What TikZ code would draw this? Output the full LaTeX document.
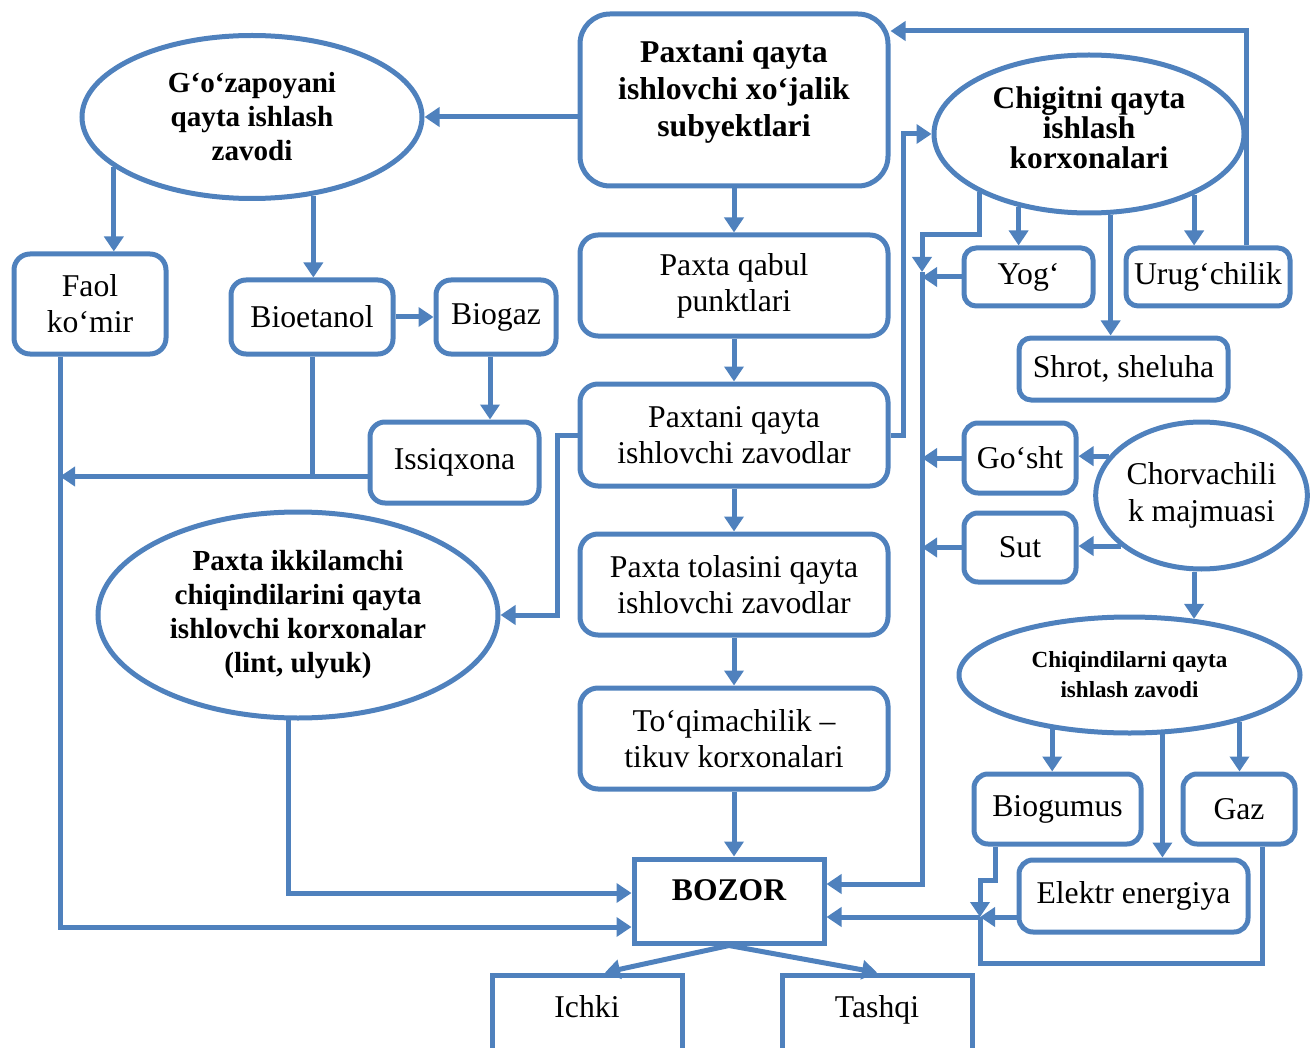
\documentclass[tikz,border=0pt]{standalone}
\usepackage{fontspec}
\setmainfont{Liberation Serif}
\usetikzlibrary{arrows.meta,shapes.geometric}
\definecolor{frame}{RGB}{79,129,189}

\begin{document}
\begin{tikzpicture}[
    x=1pt,
    y=-1pt,
    >={Triangle[length=15pt,width=19pt]},
    box/.style={
        draw=frame,
        line width=5pt,
        rounded corners=18pt,
        align=center,
        inner sep=2pt,
        font=\fontsize{31.7}{36}\selectfont
    },
    plain/.style={
        box,
        sharp corners
    },
    oval/.style={
        ellipse,
        draw=frame,
        line width=5pt,
        align=center,
        inner sep=0pt,
        font=\bfseries\fontsize{29.1}{34}\selectfont
    },
    dims/.style 2 args={
        minimum width=#1pt,
        minimum height=#2pt
    },
    arr/.style={
        ->,
        line width=5pt,
        draw=frame
    },
    link/.style={
        line width=5pt,
        draw=frame
    }
]

    \useasboundingbox (0,0) rectangle (1316,1048);

    % middle column
    \node[
        box,
        dims={308}{172},
        rounded corners=30pt,
        text depth=22pt,
        font=\bfseries\fontsize{31.7}{37}\selectfont
    ] (subj) at (734,100)
        {Paxtani qayta\\ishlovchi xo‘jalik\\subyektlari};

    \node[box, dims={308}{101}] (qabul) at (734,285.5)
        {Paxta qabul\\punktlari};

    \node[box, dims={308}{102}] (zavod) at (734,435)
        {Paxtani qayta\\ishlovchi zavodlar};

    \node[box, dims={308}{101}] (tola) at (734,584.5)
        {Paxta tolasini qayta\\ishlovchi zavodlar};

    \node[box, dims={308}{101}] (toqim) at (734,738.5)
        {To‘qimachilik –\\tikuv korxonalari};

    \node[
        plain,
        dims={190}{84},
        text depth=22pt,
        font=\bfseries\fontsize{31.6}{36}\selectfont
    ] (bozor) at (729,901)
        {BOZOR};

    \node[plain, dims={190}{80}, text depth=16.6pt] (ichki) at (587,1015)
        {Ichki};

    \node[plain, dims={190}{80}, text depth=16.6pt] (tashqi) at (877,1015)
        {Tashqi};

    % left side
    \node[oval, dims={340}{163}] (gozap) at (252,117)
        {G‘o‘zapoyani\\qayta ishlash\\zavodi};

    \node[box, dims={152}{100}, rounded corners=16pt] (faol) at (90,304)
        {Faol\\ko‘mir};

    \node[box, dims={162}{74}, rounded corners=15pt] (bioet) at (312,317)
        {Bioetanol};

    \node[box, dims={120}{74}, rounded corners=15pt] (biogaz) at (496,317)
        {Biogaz};

    \node[box, dims={169}{81}, rounded corners=15pt] (issiq) at (454.5,462.5)
        {Issiqxona};

    \node[oval, dims={400}{206}] (ikkil) at (298,615)
        {Paxta ikkilamchi\\chiqindilarini qayta\\ishlovchi korxonalar\\(lint, ulyuk)};

    % right side
    \node[
        oval,
        dims={310}{158},
        text depth=12pt,
        font=\bfseries\fontsize{31.4}{30}\selectfont
    ] (chigit) at (1089,134)
        {Chigitni qayta\\ishlash\\korxonalari};

    \node[box, dims={129}{58}, rounded corners=12pt] (yog) at (1028.5,277)
        {Yog‘};

    \node[box, dims={164}{58}, rounded corners=12pt] (urug) at (1208,277)
        {Urug‘chilik};

    \node[box, dims={209}{62}, rounded corners=12pt] (shrot) at (1123.5,369)
        {Shrot, sheluha};

    \node[box, dims={112}{70}, rounded corners=14pt] (gosht) at (1020,458)
        {Go‘sht};

    \node[box, dims={112}{69}, rounded corners=14pt] (sut) at (1020,547.5)
        {Sut};

    \node[
        oval,
        dims={205}{147},
        font=\fontsize{31.7}{37}\selectfont
    ] (chorva) at (1201.5,495.5)
        {Chorvachili\\k majmuasi};

    \node[
        oval,
        dims={341}{116},
        font=\bfseries\fontsize{23.1}{30}\selectfont
    ] (chiqin) at (1129.5,675)
        {Chiqindilarni qayta\\ishlash zavodi};

    \node[box, dims={167}{70}, rounded corners=14pt] (biogum) at (1057.5,809)
        {Biogumus};

    \node[box, dims={112}{70}, rounded corners=14pt] (gaz) at (1239,809)
        {Gaz};

    \node[box, dims={229}{72}, rounded corners=14pt] (elektr) at (1133.5,896)
        {Elektr energiya};

    \coordinate (faolout) at ([xshift=-30pt]faol.south);
    \coordinate (bustop) at (922,272);
    \coordinate (jn) at (980,917);

    % left side links
    \draw[arr] (gozap.east -| subj.west) -- (gozap.east);
    \draw[arr] (gozap.200) -- (gozap.200 |- faol.north);
    \draw[arr] (gozap.308) -- (gozap.308 |- bioet.north);
    \draw[arr] (bioet.east) -- (biogaz.west);
    \draw[arr] ([xshift=-6pt]biogaz.south) -- ([xshift=-6pt]biogaz.south |- issiq.north);
    \draw[arr] ([yshift=-14pt]issiq.west) -- ([yshift=-14pt]issiq.west -| faolout);
    \draw[link] (bioet.south) -- (bioet.south |- 0,476);
    \draw[arr] (faolout) |- ([yshift=-26pt]bozor.west);
    \draw[arr] (ikkil.265) |- ([yshift=8pt]bozor.west);
    \draw[arr] (zavod.west) -- ++(-20,0) |- (ikkil.east);

    % middle column links
    \draw[arr] (subj.south) -- (qabul.north);
    \draw[arr] (qabul.south) -- (zavod.north);
    \draw[arr] (zavod.south) -- (tola.north);
    \draw[arr] (tola.south) -- (toqim.north);
    \draw[arr] (toqim.south) -- (toqim.south |- bozor.north);
    \draw[arr] (bozor.south) -- ([xshift=18pt]ichki.north);
    \draw[arr] (bozor.south) -- (tashqi.north);

    % right side links
    \draw[arr] (zavod.east) -- ++(13,0) |- (chigit.west);
    \draw[arr] (chigit.226) -- (chigit.226 |- yog.north);
    \draw[arr] (chigit.330) -- (chigit.330 |- urug.north);
    \draw[arr] (chigit.285) -- (chigit.285 |- shrot.north);
    \draw[arr] ([xshift=38pt]urug.north) |- ([yshift=69pt]subj.east);
    \draw[arr] (chigit.208) -- ++(0,42) -| (bustop);
    \draw[arr] (bustop) |- ([yshift=17pt]bozor.east);
    \draw[arr] (yog.west) -- (yog.west -| bustop);
    \draw[arr] (gosht.west) -- (gosht.west -| bustop);
    \draw[arr] (sut.west) -- (sut.west -| bustop);
    \draw[arr] (chorva.157) -- (chorva.157 -| gosht.east);
    \draw[arr] (chorva.212) -- (chorva.212 -| sut.east);
    \draw[arr] (chiqin.41 |- chorva.south) -- (chiqin.41);
    \draw[arr] (chiqin.215) -- (chiqin.215 |- biogum.north);
    \draw[arr] (chiqin.337) -- (chiqin.337 |- gaz.north);
    \draw[arr] (chiqin.299) -- (chiqin.299 |- elektr.north);
    \draw[arr] ([xshift=-62pt]biogum.south) -- ++(0,34) -| (jn);
    \draw[arr] (elektr.west |- jn) -- (jn);
    \draw[arr] (jn) -- (jn -| bozor.east);
    \draw[link] ([xshift=23pt]gaz.south) -- ++(0,117) -| (jn);

\end{tikzpicture}
\end{document}
